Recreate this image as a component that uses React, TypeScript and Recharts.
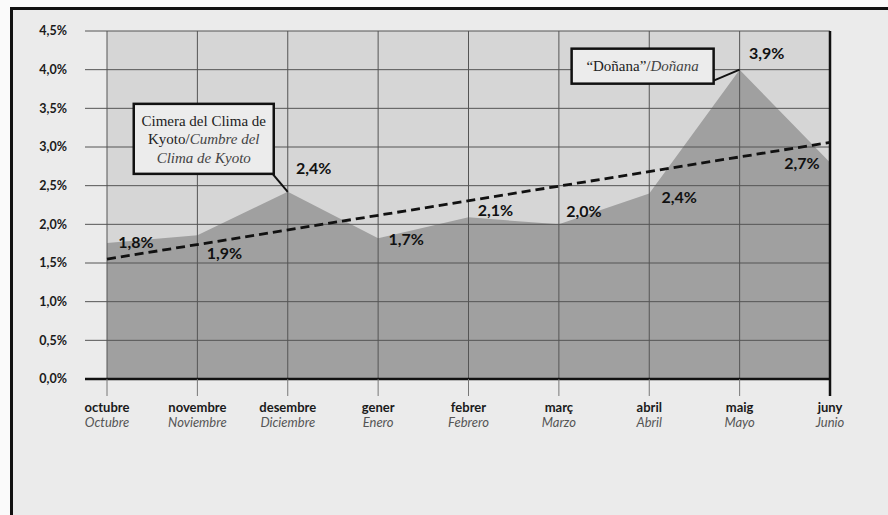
import React from 'react';
import {
    Area,
    ComposedChart,
    LabelList,
    ReferenceArea,
    ReferenceDot,
    ReferenceLine,
    XAxis,
    YAxis,
} from 'recharts';

// month names, Catalan on top and Spanish (italic) below
const months = ['octubre', 'novembre', 'desembre', 'gener', 'febrer', 'març', 'abril', 'maig', 'juny'];
const monthsEs = ['Octubre', 'Noviembre', 'Diciembre', 'Enero', 'Febrero', 'Marzo', 'Abril', 'Mayo', 'Junio'];

// plotted values as they sit in the picture, and the labels printed beside them
const rates = [1.76, 1.86, 2.42, 1.82, 2.09, 2.0, 2.4, 4.0, 2.8];
const rateLabels = ['1,8%', '1,9%', '2,4%', '1,7%', '2,1%', '2,0%', '2,4%', '3,9%', '2,7%'];

const yTicks = [0, 0.5, 1, 1.5, 2, 2.5, 3, 3.5, 4, 4.5];

// dashed trend line, first and last month
const trendStart = 1.55;
const trendEnd = 3.06;

const chartData = months.map((m, i) => ({
    month: m,
    es: monthsEs[i],
    rate: rates[i],
    label: rateLabels[i],
}));

const SANS = 'Lato, "Open Sans", sans-serif';
const SERIF = '"Liberation Serif", "DejaVu Serif", serif';

// where each value label sits relative to its point
const labelOffsets: [number, number][] = [
    [29, -1], [27, 18], [26, -24], [28, 1], [27, -7], [25, -13], [30, 4], [27, -16], [-28, 1],
];

const renderLabel = (props: any) => {
    const {x, y, value, index} = props;
    const [dx, dy] = labelOffsets[index] || [0, 0];
    return (
        <text x={x + dx} y={y + dy} dy="0.36em" textAnchor="middle" fill="#111"
              fontFamily={SANS} fontWeight={700} fontSize={16}>
            {value}
        </text>
    );
};

const MonthTick = (props: any) => {
    const {x, y, payload} = props;
    const i = months.indexOf(payload.value);
    const last = i === months.length - 1;
    return (
        <g>
            <line x1={x} y1={y} x2={x} y2={y + 17} stroke={last ? '#111' : '#777'} strokeWidth={last ? 2.5 : 1}/>
            <text x={x} y={y + 33} textAnchor="middle" fill="#1a1a1a" fontFamily={SANS} fontWeight={700}
                  fontSize={13}>
                {payload.value}
            </text>
            <text x={x} y={y + 48} textAnchor="middle" fill="#555" fontFamily={SANS} fontStyle="italic"
                  fontSize={13}>
                {monthsEs[i]}
            </text>
        </g>
    );
};

const KyotoNote = (props: any) => {
    const {cx, cy} = props;
    const bx = cx - 154;
    const by = cy - 88;
    return (
        <g>
            <line x1={cx - 16} y1={cy - 19} x2={cx} y2={cy} stroke="#111" strokeWidth={2}/>
            <rect x={bx} y={by} width={140} height={70} fill="#ececec" stroke="#111" strokeWidth={2.5}/>
            <text x={bx + 70} y={by + 22} textAnchor="middle" fontFamily={SERIF} fontSize={15} fill="#222">
                Cimera del Clima de
            </text>
            <text x={bx + 70} y={by + 40} textAnchor="middle" fontFamily={SERIF} fontSize={15} fill="#222">
                Kyoto/<tspan fontStyle="italic" fill="#444">Cumbre del</tspan>
            </text>
            <text x={bx + 70} y={by + 59} textAnchor="middle" fontFamily={SERIF} fontSize={15}
                  fontStyle="italic" fill="#444">
                Clima de Kyoto
            </text>
        </g>
    );
};

const DonanaNote = (props: any) => {
    const {cx, cy} = props;
    const bx = cx - 168;
    const by = cy - 21;
    return (
        <g>
            <line x1={cx - 26} y1={cy + 11} x2={cx} y2={cy} stroke="#111" strokeWidth={2}/>
            <rect x={bx} y={by} width={142} height={35} fill="#ececec" stroke="#111" strokeWidth={2.5}/>
            <text x={bx + 71} y={by + 22} textAnchor="middle" fontFamily={SERIF} fontSize={15} fill="#222">
                “Doñana”/<tspan fontStyle="italic" fill="#444">Doñana</tspan>
            </text>
        </g>
    );
};

const fmtPct = (v: number) => v.toFixed(1).replace('.', ',') + '%';

export default function App() {
    return (
        <div style={{position: 'absolute', left: 0, top: 0, width: 888, height: 515, background: '#fafafa', overflow: 'hidden'}}>
            <div style={{
                position: 'absolute', left: 10, top: 7, width: 900, height: 530,
                background: '#ebebeb', borderLeft: '3px solid #111', borderTop: '3px solid #111',
            }}/>
            <div style={{position: 'absolute', left: 0, top: 0}}>
                <ComposedChart
                    width={888}
                    height={515}
                    data={chartData}
                    margin={{top: 31, right: 58, left: 0, bottom: 76}}
                >
                    <ReferenceArea x1="octubre" x2="juny" y1={0} y2={4.5} fill="#d6d6d6" fillOpacity={1}
                                   stroke="none" ifOverflow="visible"/>
                    <Area
                        type="linear"
                        dataKey="rate"
                        stroke="none"
                        fill="#a0a0a0"
                        fillOpacity={1}
                        isAnimationActive={false}
                    >
                        <LabelList dataKey="label" content={renderLabel}/>
                    </Area>
                    <XAxis
                        dataKey="month"
                        scale="point"
                        padding={{left: 22, right: 0}}
                        axisLine={{stroke: '#111', strokeWidth: 2.5}}
                        tickLine={false}
                        tickSize={0}
                        tickMargin={0}
                        interval={0}
                        height={60}
                        tick={<MonthTick/>}
                    />
                    <YAxis
                        domain={[0, 4.5]}
                        ticks={yTicks}
                        interval={0}
                        width={85}
                        axisLine={false}
                        tickLine={false}
                        tickMargin={12}
                        tickFormatter={fmtPct}
                        tick={{fill: '#1a1a1a', fontSize: 12.5, fontWeight: 700, fontFamily: SANS}}
                    />
                    {/* grid drawn over the area, as in the printed chart */}
                    {yTicks.filter((t) => t > 0).map((t) => (
                        <ReferenceLine key={'h' + t} y={t} stroke="#555" strokeWidth={1}/>
                    ))}
                    {months.slice(0, -1).map((m) => (
                        <ReferenceLine key={'v' + m} x={m} stroke="#555" strokeWidth={1}/>
                    ))}
                    <ReferenceLine x="juny" stroke="#111" strokeWidth={2.5}/>
                    <ReferenceLine
                        segment={[{x: 'octubre', y: trendStart}, {x: 'juny', y: trendEnd}]}
                        stroke="#111"
                        strokeWidth={2.8}
                        strokeDasharray="9 5"
                    />
                    <ReferenceDot x="desembre" y={rates[2]} r={0} shape={<KyotoNote/>}/>
                    <ReferenceDot x="maig" y={rates[7]} r={0} shape={<DonanaNote/>}/>
                </ComposedChart>
            </div>
        </div>
    );
}
